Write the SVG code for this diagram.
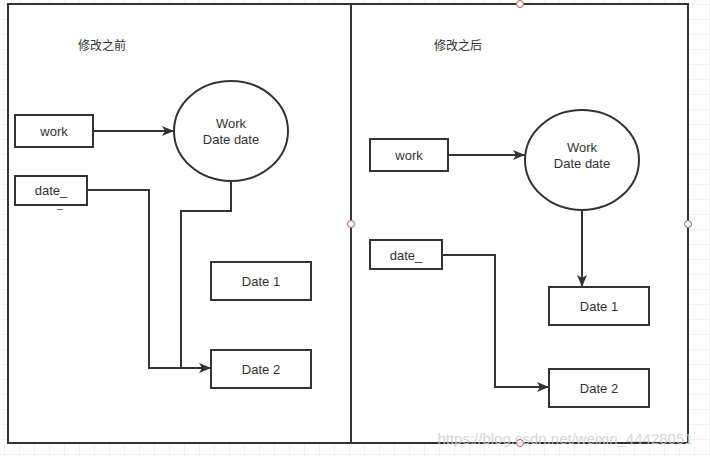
<svg xmlns="http://www.w3.org/2000/svg" width="710" height="456" viewBox="0 0 710 456">
<defs>
<pattern id="g" width="15" height="15" patternUnits="userSpaceOnUse" x="5" y="5"><path d="M15 0V15H0" fill="none" stroke="#e6e6e6" stroke-width="1"/></pattern>
<marker id="a" markerWidth="12" markerHeight="10" refX="12" refY="5" orient="auto" markerUnits="userSpaceOnUse"><path d="M0 0L12 5L0 10L3 5Z" fill="#333"/></marker>
<style>
.b{fill:#fff;stroke:#333;stroke-width:2}
.t{font-family:"Liberation Sans","Noto Sans CJK SC",sans-serif;font-size:13px;fill:#333;text-anchor:middle}
.c{fill:none;stroke:#333;stroke-width:2}
.h{fill:#fff;stroke:#b85450;stroke-width:1}
</style>
</defs>
<rect width="710" height="456" fill="url(#g)"/>
<g id="frames">
<rect x="8" y="4" width="343" height="439" class="b"/>
<rect x="351" y="4" width="337" height="439" class="b"/>
<circle cx="520" cy="4" r="3.5" class="h"/><circle cx="351" cy="224" r="3.5" class="h"/><circle cx="688" cy="224" r="3.5" class="h"/><circle cx="520" cy="443" r="3.5" class="h"/>
</g>
<text x="102" y="50" class="t" style="font-size:12px">修改之前</text>
<text x="458" y="50" class="t" style="font-size:12px">修改之后</text>
<g id="connectors">
<path class="c" d="M93 131H174" marker-end="url(#a)"/>
<path class="c" d="M88 190H149V368H211" marker-end="url(#a)"/>
<path class="c" d="M231 181V211H181V368"/>
<path class="c" d="M448 155H525" marker-end="url(#a)"/>
<path class="c" d="M582 210V287" marker-end="url(#a)"/>
<path class="c" d="M442 255H495V387H549" marker-end="url(#a)"/>
</g>
<g id="L-work"><rect x="15" y="115" width="78" height="32" class="b"/><text x="54" y="136" class="t">work</text></g>
<g id="L-date"><rect x="15" y="176" width="72" height="29" class="b"/><text x="51" y="195" class="t">date_</text><text x="60" y="208" class="t" style="font-size:10px">_</text></g>
<g id="L-work-obj"><ellipse cx="231" cy="131" rx="57" ry="50" class="b"/><text x="231" y="128" class="t">Work</text><text x="231" y="144" class="t">Date date</text></g>
<g id="L-date1"><rect x="211" y="262" width="100" height="38" class="b"/><text x="261" y="286" class="t">Date 1</text></g>
<g id="L-date2"><rect x="211" y="350" width="100" height="38" class="b"/><text x="261" y="374" class="t">Date 2</text></g>
<g id="R-work"><rect x="370" y="139" width="78" height="32" class="b"/><text x="409" y="160" class="t">work</text></g>
<g id="R-work-obj"><ellipse cx="582" cy="160" rx="57" ry="50" class="b"/><text x="582" y="152" class="t">Work</text><text x="582" y="168" class="t">Date date</text></g>
<g id="R-date"><rect x="370" y="240" width="72" height="29" class="b"/><text x="406" y="260" class="t">date_</text></g>
<g id="R-date1"><rect x="549" y="287" width="100" height="38" class="b"/><text x="599" y="311" class="t">Date 1</text></g>
<g id="R-date2"><rect x="549" y="369" width="100" height="38" class="b"/><text x="599" y="393" class="t">Date 2</text></g>
<text x="565" y="444" class="t" style="font-size:15px;fill:#ccc;opacity:0.8">https://blog.csdn.net/weixin_44428051</text>
</svg>
